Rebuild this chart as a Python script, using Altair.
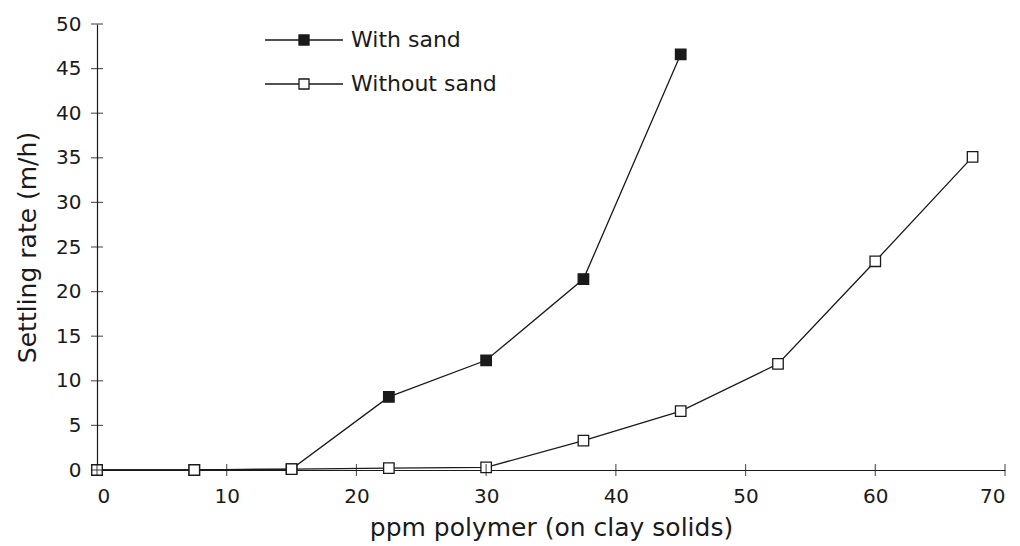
import altair as alt
import pandas as pd

# Polymer dose (ppm on clay solids) and settling rate (m/h)
dose_with_sand = [0, 7.5, 15, 22.5, 30, 37.5, 45]
rate_with_sand = [0, 0, 0.1, 8.2, 12.3, 21.4, 46.6]

dose_without_sand = [0, 7.5, 15, 22.5, 30, 37.5, 45, 52.5, 60, 67.5]
rate_without_sand = [0, 0, 0.1, 0.2, 0.3, 3.3, 6.6, 11.9, 23.4, 35.1]

series_names = ["With sand", "Without sand"]
x_ticks = [0, 10, 20, 30, 40, 50, 60, 70]
y_ticks = [0, 5, 10, 15, 20, 25, 30, 35, 40, 45, 50]

rows = []
for d, r in zip(dose_with_sand, rate_with_sand):
    rows.append({"dose": d, "rate": r, "series": series_names[0], "order": 0})
for d, r in zip(dose_without_sand, rate_without_sand):
    rows.append({"dose": d, "rate": r, "series": series_names[1], "order": 1})
df = pd.DataFrame(rows)

INK = "#1a1a1a"
FONT = "DejaVu Sans"

x_scale = alt.Scale(domain=[0, 70], nice=False, zero=False)
y_scale = alt.Scale(domain=[0, 50], nice=False, zero=False)

x_axis = alt.Axis(
    title="ppm polymer (on clay solids)", values=x_ticks, ticks=False,
    labelPadding=16, titlePadding=9, grid=False, domainColor=INK,
    domainWidth=1.2, labelFontSize=20, titleFontSize=25,
)
y_axis = alt.Axis(
    title="Settling rate (m/h)", values=y_ticks, ticks=False,
    labelPadding=16, titlePadding=15, grid=False, domainColor=INK,
    domainWidth=1.2, labelFontSize=20, titleFontSize=25,
)

base = alt.Chart(df)

lines = base.mark_line(color=INK, strokeWidth=1.3).encode(
    x=alt.X("dose:Q", scale=x_scale, axis=x_axis),
    y=alt.Y("rate:Q", scale=y_scale, axis=y_axis),
    detail="series:N",
    order="dose:Q",
)

# Custom legend symbol: a line running through a small square
legend_symbol = "M-7.8,0H-1M1,0H7.8M-1,-1H1V1H-1Z"

points = base.mark_point(
    shape="square", size=110, stroke=INK, strokeWidth=1.3, opacity=1, filled=False
).encode(
    x="dose:Q",
    y="rate:Q",
    fill=alt.Fill(
        "series:N",
        scale=alt.Scale(domain=series_names, range=[INK, "white"]),
        legend=alt.Legend(
            title=None, orient="none", legendX=196, legendY=5,
            symbolType=legend_symbol, symbolSize=100, symbolStrokeColor=INK,
            symbolStrokeWidth=1.3, symbolOpacity=1, labelOffset=36,
            labelFontSize=22, rowPadding=22, padding=0,
        ),
    ),
    order=alt.Order("order:Q"),
)

# Axis ticks that cross the axis lines
xt = pd.DataFrame({"v": x_ticks, "zero": [0] * len(x_ticks)})
yt = pd.DataFrame({"v": y_ticks, "zero": [0] * len(y_ticks)})

x_tick_marks = alt.Chart(xt).mark_tick(
    orient="vertical", size=12, thickness=1.2, color=INK
).encode(x=alt.X("v:Q", scale=x_scale), y=alt.Y("zero:Q", scale=y_scale))

y_tick_marks = alt.Chart(yt).mark_tick(
    orient="horizontal", size=12, thickness=1.2, color=INK
).encode(y=alt.Y("v:Q", scale=y_scale), x=alt.X("zero:Q", scale=x_scale))

chart = (
    alt.layer(lines, points, x_tick_marks, y_tick_marks)
    .properties(
        width=908, height=446,
        autosize=alt.AutoSizeParams(type="none"),
        padding={"left": 97, "top": 24, "right": 15, "bottom": 76},
        background="white",
    )
    .configure_view(stroke=None)
    .configure_axis(
        labelFont=FONT, titleFont=FONT, labelColor=INK, titleColor=INK,
        titleFontWeight="normal",
    )
    .configure_legend(labelFont=FONT, labelColor=INK)
)

chart.save("out.html", embed_options={"renderer": "svg", "actions": False})
